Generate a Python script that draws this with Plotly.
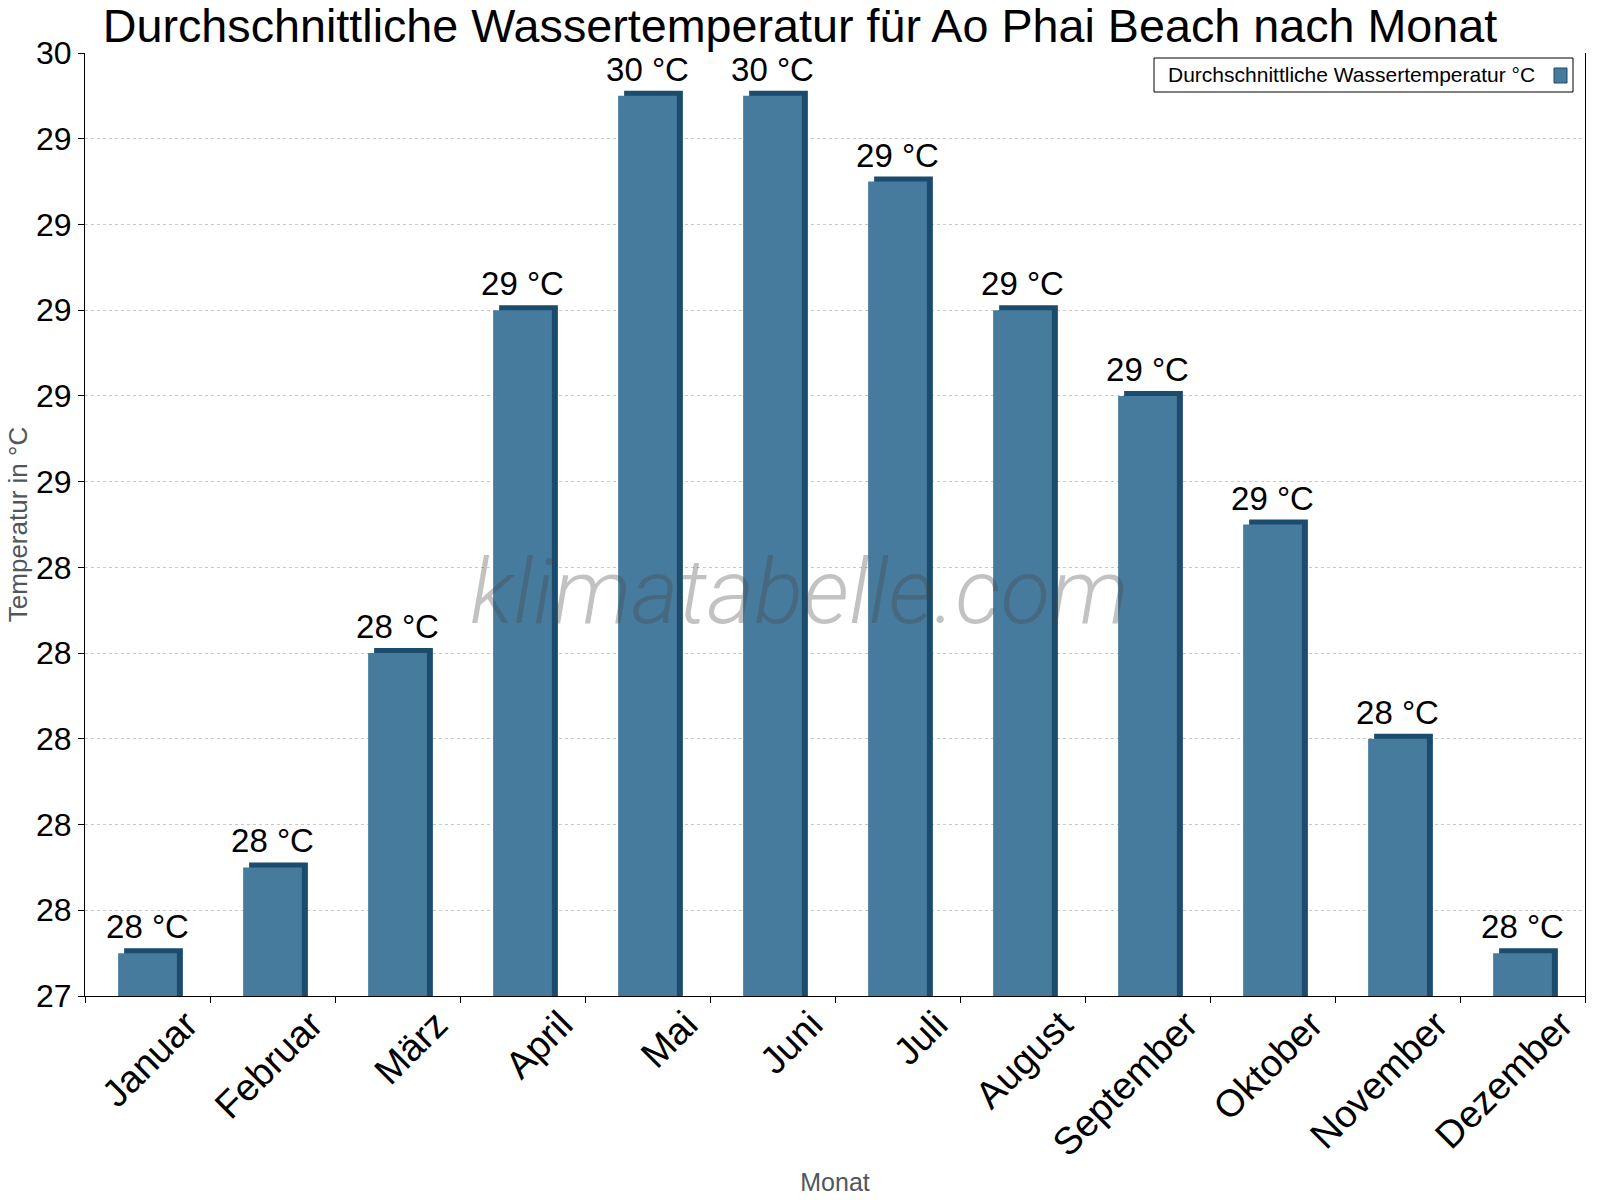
import plotly.graph_objects as go

months = ["Januar", "Februar", "März", "April", "Mai", "Juni", "Juli",
          "August", "September", "Oktober", "November", "Dezember"]
water_temp = [27.5, 27.7, 28.2, 29.0, 29.5, 29.5, 29.3, 29.0, 28.8, 28.5, 28.0, 27.5]
bar_labels = ["28 °C", "28 °C", "28 °C", "29 °C", "30 °C", "30 °C", "29 °C",
              "29 °C", "29 °C", "29 °C", "28 °C", "28 °C"]
y_tick_values = [27.4, 27.6, 27.8, 28.0, 28.2, 28.4, 28.6, 28.8, 29.0, 29.2, 29.4, 29.6]
y_tick_labels = ["27", "28", "28", "28", "28", "28", "29", "29", "29", "29", "29", "30"]
series_name = "Durchschnittliche Wassertemperatur °C"

MAIN = "#467B9D"
DARK = "#1B4B6D"
FONT = "Liberation Sans, Arial, sans-serif"

W, H = 1600, 1200
L, R, T, B = 85, 15, 53, 204
pw, ph = W - L - R, H - T - B
depth_px_x, depth_px_y = 6, 5
yspan = y_tick_values[-1] - y_tick_values[0]
depth_y = depth_px_y / ph * yspan
bw = 0.47
dx = depth_px_x / (pw / len(months))

def px_x(p):
    return (p - L) / pw

def px_y(p):
    return (H - B - p) / ph

top_vals = [v + depth_y for v in water_temp]

fig = go.Figure()
# invisible carrier for the value labels (centred over the front face)
fig.add_trace(go.Bar(
    x=months, y=top_vals,
    width=bw, offset=-bw / 2,
    marker=dict(color="rgba(0,0,0,0)", line=dict(width=0)),
    text=bar_labels, textposition="outside", constraintext="none",
    textfont=dict(family=FONT, size=33, color="black"),
    cliponaxis=False, showlegend=False, hoverinfo="skip",
))
# darker "3D" side/top
fig.add_trace(go.Bar(
    x=months, y=top_vals,
    width=bw, offset=-bw / 2 + dx,
    marker=dict(color=DARK, line=dict(width=0)),
    showlegend=False, hoverinfo="skip",
))
fig.add_trace(go.Bar(
    x=months, y=water_temp,
    width=bw, offset=-bw / 2,
    marker=dict(color=MAIN, line=dict(width=0)),
    name=series_name, showlegend=False,
))

fig.update_layout(
    width=W, height=H,
    margin=dict(l=L, r=R, t=T, b=B),
    paper_bgcolor="white", plot_bgcolor="white",
    barmode="overlay",
    font=dict(family=FONT, color="black"),
    title=dict(
        text="Durchschnittliche Wassertemperatur für Ao Phai Beach nach Monat",
        x=0.5, xanchor="center", xref="container",
        y=1 - 9 / H, yanchor="top", yref="container",
        font=dict(family=FONT, size=46.7, color="black"),
        pad=dict(t=0, b=0),
    ),
    xaxis=dict(
        type="category", automargin=False,
        showline=True, linecolor="black", linewidth=1,
        ticks="outside", ticklen=6, tickcolor="black", tickson="boundaries",
        tickangle=-45, ticklabelshift=39, ticklabelstandoff=-10,
        tickfont=dict(family=FONT, size=38, color="black"),
        showgrid=False,
        title=dict(text="Monat", font=dict(family=FONT, size=25, color="#50565e"), standoff=10),
    ),
    yaxis=dict(
        automargin=False,
        range=[y_tick_values[0], y_tick_values[-1]],
        tickmode="array", tickvals=y_tick_values, ticktext=y_tick_labels,
        showline=True, linecolor="black", linewidth=1, mirror=True,
        ticks="outside", ticklen=6, tickcolor="black",
        tickfont=dict(family=FONT, size=32, color="black"),
        showgrid=True, gridcolor="#c8c8c8", griddash="dot", gridwidth=1,
        zeroline=False,
        title=dict(text="Temperatur in °C", font=dict(family=FONT, size=26, color="#50565e"), standoff=0),
    ),
    annotations=[
        dict(
            text="klimatabelle.com", xref="paper", yref="paper",
            x=px_x(799), y=px_y(592), xanchor="center", yanchor="middle",
            showarrow=False,
            font=dict(family="Roboto", size=91, color="rgba(70,70,70,0.33)", style="italic", weight=300),
        ),
        dict(
            text=series_name, xref="paper", yref="paper",
            x=px_x(1166), y=px_y(75), xanchor="left", yanchor="middle",
            showarrow=False, font=dict(family=FONT, size=21, color="black"),
        ),
    ],
    shapes=[
        dict(type="rect", xref="paper", yref="paper",
             x0=px_x(1154), x1=px_x(1573), y0=px_y(92), y1=px_y(58),
             line=dict(color="black", width=1), fillcolor="rgba(255,255,255,0)"),
        dict(type="rect", xref="paper", yref="paper",
             x0=px_x(1554), x1=px_x(1567), y0=px_y(83), y1=px_y(68),
             line=dict(color=DARK, width=1), fillcolor=MAIN),
    ],
)

fig.write_html("out.html")
